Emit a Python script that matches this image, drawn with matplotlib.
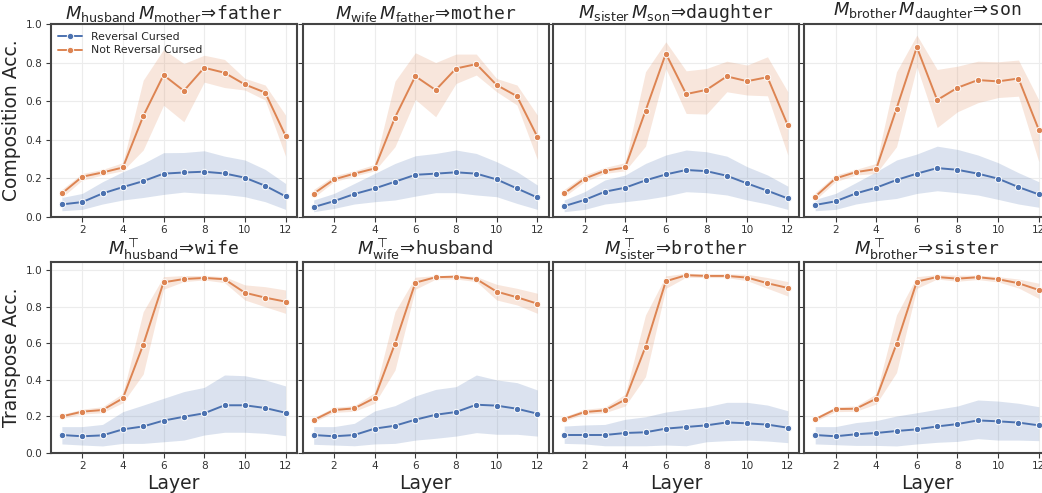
import matplotlib
matplotlib.use("Agg")
import matplotlib.pyplot as plt
import seaborn as sns

# ---------- data ----------
layers = list(range(1, 13))
series_names = ["Reversal Cursed", "Not Reversal Cursed"]

comp_titles = [
    r"$M_{\mathrm{husband}}\,M_{\mathrm{mother}}\!\Rightarrow\!\mathtt{father}$",
    r"$M_{\mathrm{wife}}\,M_{\mathrm{father}}\!\Rightarrow\!\mathtt{mother}$",
    r"$M_{\mathrm{sister}}\,M_{\mathrm{son}}\!\Rightarrow\!\mathtt{daughter}$",
    r"$M_{\mathrm{brother}}\,M_{\mathrm{daughter}}\!\Rightarrow\!\mathtt{son}$",
]
trans_titles = [
    r"$M_{\mathrm{husband}}^{\top}\!\Rightarrow\!\mathtt{wife}$",
    r"$M_{\mathrm{wife}}^{\top}\!\Rightarrow\!\mathrm{husband}$",
    r"$M_{\mathrm{sister}}^{\top}\!\Rightarrow\!\mathtt{brother}$",
    r"$M_{\mathrm{brother}}^{\top}\!\Rightarrow\!\mathtt{sister}$",
]

# composition, reversal cursed
comp_rc_mean = [
    [0.064, 0.076, 0.121, 0.154, 0.185, 0.224, 0.230, 0.234, 0.225, 0.203, 0.161, 0.106],
    [0.050, 0.081, 0.118, 0.147, 0.182, 0.218, 0.224, 0.231, 0.224, 0.194, 0.147, 0.100],
    [0.055, 0.087, 0.130, 0.151, 0.189, 0.220, 0.243, 0.237, 0.213, 0.173, 0.135, 0.095],
    [0.061, 0.080, 0.121, 0.151, 0.191, 0.224, 0.253, 0.244, 0.224, 0.198, 0.154, 0.116],
]
comp_rc_lo = [
    [0.031, 0.038, 0.066, 0.087, 0.100, 0.116, 0.128, 0.121, 0.116, 0.104, 0.078, 0.038],
    [0.026, 0.043, 0.066, 0.078, 0.087, 0.107, 0.125, 0.125, 0.113, 0.104, 0.069, 0.038],
    [0.026, 0.038, 0.066, 0.078, 0.090, 0.107, 0.130, 0.125, 0.113, 0.087, 0.066, 0.038],
    [0.031, 0.038, 0.066, 0.083, 0.095, 0.121, 0.135, 0.125, 0.113, 0.090, 0.066, 0.049],
]
comp_rc_hi = [
    [0.100, 0.121, 0.182, 0.234, 0.277, 0.333, 0.334, 0.343, 0.315, 0.295, 0.246, 0.173],
    [0.087, 0.121, 0.173, 0.225, 0.277, 0.317, 0.329, 0.347, 0.329, 0.286, 0.234, 0.165],
    [0.087, 0.130, 0.191, 0.217, 0.277, 0.321, 0.347, 0.338, 0.315, 0.260, 0.217, 0.159],
    [0.090, 0.121, 0.177, 0.234, 0.295, 0.326, 0.367, 0.350, 0.321, 0.281, 0.229, 0.182],
]
# composition, not reversal cursed
comp_nrc_mean = [
    [0.121, 0.208, 0.230, 0.256, 0.523, 0.737, 0.655, 0.775, 0.749, 0.688, 0.646, 0.421],
    [0.120, 0.194, 0.224, 0.251, 0.516, 0.731, 0.659, 0.771, 0.794, 0.685, 0.627, 0.416],
    [0.121, 0.198, 0.239, 0.256, 0.551, 0.849, 0.638, 0.660, 0.730, 0.705, 0.726, 0.475],
    [0.104, 0.199, 0.232, 0.248, 0.562, 0.882, 0.607, 0.671, 0.711, 0.704, 0.719, 0.452],
]
comp_nrc_lo = [
    [0.100, 0.190, 0.217, 0.239, 0.347, 0.580, 0.494, 0.700, 0.672, 0.659, 0.607, 0.315],
    [0.100, 0.182, 0.211, 0.239, 0.364, 0.610, 0.520, 0.693, 0.737, 0.650, 0.581, 0.298],
    [0.104, 0.182, 0.225, 0.239, 0.367, 0.771, 0.537, 0.534, 0.650, 0.633, 0.629, 0.321],
    [0.087, 0.182, 0.217, 0.225, 0.364, 0.780, 0.464, 0.546, 0.593, 0.620, 0.627, 0.286],
]
comp_nrc_hi = [
    [0.142, 0.225, 0.246, 0.281, 0.710, 0.870, 0.797, 0.840, 0.818, 0.720, 0.685, 0.529],
    [0.142, 0.213, 0.239, 0.272, 0.705, 0.853, 0.802, 0.846, 0.846, 0.719, 0.685, 0.529],
    [0.142, 0.217, 0.256, 0.281, 0.754, 0.910, 0.759, 0.771, 0.809, 0.789, 0.832, 0.650],
    [0.125, 0.217, 0.246, 0.277, 0.754, 0.945, 0.766, 0.783, 0.809, 0.806, 0.815, 0.607],
]

# transpose, reversal cursed
trans_rc_mean = [
    [0.097, 0.090, 0.095, 0.128, 0.144, 0.176, 0.197, 0.216, 0.260, 0.260, 0.245, 0.219],
    [0.097, 0.090, 0.097, 0.132, 0.148, 0.181, 0.208, 0.223, 0.263, 0.258, 0.241, 0.214],
    [0.097, 0.097, 0.097, 0.108, 0.112, 0.132, 0.141, 0.150, 0.166, 0.161, 0.154, 0.137],
    [0.097, 0.090, 0.101, 0.108, 0.119, 0.128, 0.144, 0.157, 0.177, 0.172, 0.165, 0.150],
]
trans_rc_lo = [
    [0.048, 0.042, 0.037, 0.051, 0.051, 0.060, 0.069, 0.097, 0.112, 0.112, 0.106, 0.093],
    [0.046, 0.042, 0.038, 0.048, 0.051, 0.069, 0.079, 0.091, 0.110, 0.101, 0.101, 0.091],
    [0.051, 0.048, 0.038, 0.038, 0.038, 0.042, 0.038, 0.060, 0.066, 0.069, 0.064, 0.055],
    [0.048, 0.044, 0.040, 0.040, 0.037, 0.048, 0.057, 0.062, 0.077, 0.069, 0.069, 0.066],
]
trans_rc_hi = [
    [0.143, 0.143, 0.155, 0.225, 0.261, 0.298, 0.335, 0.358, 0.426, 0.422, 0.399, 0.366],
    [0.143, 0.143, 0.161, 0.229, 0.258, 0.311, 0.347, 0.362, 0.426, 0.399, 0.384, 0.344],
    [0.146, 0.152, 0.155, 0.183, 0.197, 0.223, 0.238, 0.252, 0.276, 0.276, 0.261, 0.230],
    [0.143, 0.143, 0.165, 0.176, 0.201, 0.219, 0.238, 0.256, 0.289, 0.283, 0.271, 0.252],
]
# transpose, not reversal cursed
trans_nrc_mean = [
    [0.199, 0.225, 0.234, 0.298, 0.592, 0.934, 0.952, 0.958, 0.951, 0.877, 0.850, 0.828],
    [0.179, 0.234, 0.243, 0.300, 0.598, 0.932, 0.962, 0.965, 0.952, 0.883, 0.852, 0.817],
    [0.185, 0.223, 0.232, 0.291, 0.581, 0.940, 0.973, 0.969, 0.969, 0.960, 0.929, 0.903],
    [0.183, 0.239, 0.241, 0.296, 0.596, 0.938, 0.963, 0.954, 0.962, 0.951, 0.929, 0.892],
]
trans_nrc_lo = [
    [0.188, 0.212, 0.219, 0.274, 0.431, 0.896, 0.938, 0.947, 0.932, 0.837, 0.800, 0.764],
    [0.168, 0.221, 0.227, 0.271, 0.453, 0.896, 0.951, 0.952, 0.938, 0.837, 0.810, 0.764],
    [0.174, 0.212, 0.219, 0.256, 0.417, 0.901, 0.962, 0.960, 0.960, 0.943, 0.901, 0.859],
    [0.172, 0.225, 0.227, 0.267, 0.439, 0.901, 0.952, 0.940, 0.949, 0.936, 0.903, 0.846],
]
trans_nrc_hi = [
    [0.210, 0.239, 0.252, 0.325, 0.773, 0.965, 0.971, 0.971, 0.965, 0.920, 0.910, 0.892],
    [0.192, 0.249, 0.258, 0.329, 0.773, 0.962, 0.971, 0.974, 0.965, 0.923, 0.901, 0.874],
    [0.197, 0.238, 0.249, 0.320, 0.755, 0.969, 0.984, 0.980, 0.980, 0.978, 0.960, 0.938],
    [0.194, 0.252, 0.256, 0.322, 0.755, 0.965, 0.976, 0.973, 0.973, 0.965, 0.952, 0.929],
]

# ---------- style ----------
sns.set_theme(style="ticks")
plt.rcParams["font.family"] = ["DejaVu Sans"]
plt.rcParams["mathtext.fontset"] = "dejavusans"

colors = ["#4C72B0", "#DD8452"]

W, H = 1042, 493
fig = plt.figure(figsize=(W / 100, H / 100), dpi=100)

col_left = [50.7, 302.5, 553.0, 804.0]
col_w = 246.0
rows = [(24.5, 216.7), (261.7, 452.7)]  # (top, bottom) in pixels


def make_ax(col, row):
    top, bot = rows[row]
    return fig.add_axes([col_left[col] / W, (H - bot) / H, col_w / W, (bot - top) / H])


def draw_panel(ax, means, los, his, title, ylim):
    for k in range(2):
        ax.fill_between(layers, los[k], his[k], color=colors[k], alpha=0.2, lw=0)
        ax.plot(layers, means[k], color=colors[k], lw=1.4, marker="o", ms=4.6,
                mec="white", mew=0.7, label=series_names[k])
    ax.set_xlim(0.45, 12.55)
    ax.set_ylim(*ylim)
    ax.set_xticks([2, 4, 6, 8, 10, 12])
    ax.set_yticks([0.0, 0.2, 0.4, 0.6, 0.8, 1.0])
    ax.grid(True, color="#ececec", lw=0.8)
    ax.set_axisbelow(True)
    for s in ax.spines.values():
        s.set_color("#444444")
        s.set_linewidth(1.5)
    ax.tick_params(labelsize=7.6, length=3.5, width=0.8, color="#3a3a3a",
                   labelcolor="#333333", pad=2.5)
    ax.set_title(title, fontsize=13, pad=3)


for i in range(4):
    ax = make_ax(i, 0)
    draw_panel(ax,
               [comp_rc_mean[i], comp_nrc_mean[i]],
               [comp_rc_lo[i], comp_nrc_lo[i]],
               [comp_rc_hi[i], comp_nrc_hi[i]],
               comp_titles[i], (0, 1.0))
    if i == 0:
        ax.set_ylabel("Composition Acc.", fontsize=13.5, labelpad=3)
        ax.legend(loc="upper left", frameon=False, fontsize=7.8,
                  handlelength=2.2, borderaxespad=0.3, labelspacing=0.3)
    else:
        ax.tick_params(labelleft=False)

for i in range(4):
    ax = make_ax(i, 1)
    draw_panel(ax,
               [trans_rc_mean[i], trans_nrc_mean[i]],
               [trans_rc_lo[i], trans_nrc_lo[i]],
               [trans_rc_hi[i], trans_nrc_hi[i]],
               trans_titles[i], (0, 1.047))
    ax.set_xlabel("Layer", fontsize=13.5, labelpad=2)
    if i == 0:
        ax.set_ylabel("Transpose Acc.", fontsize=13.5, labelpad=3)
    else:
        ax.tick_params(labelleft=False)

fig.savefig("out.png", dpi=100)
